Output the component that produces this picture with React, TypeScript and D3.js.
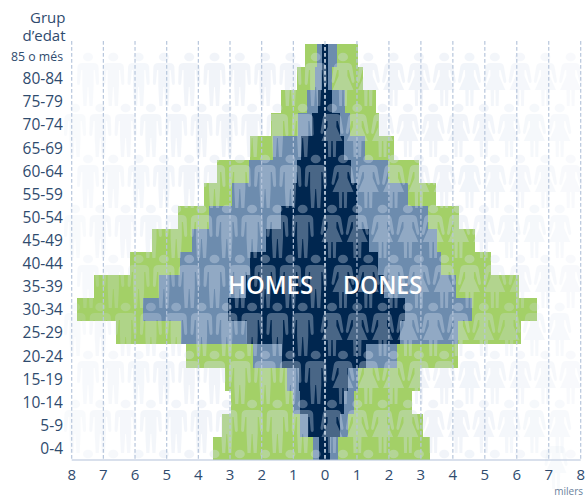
import React, { useEffect, useRef } from 'react';
import * as d3 from 'd3';

const WIDTH = 585;
const HEIGHT = 498;

const ageGroups = ['85 o més', '80-84', '75-79', '70-74', '65-69', '60-64', '55-59', '50-54', '45-49', '40-44', '35-39', '30-34', '25-29', '20-24', '15-19', '10-14', '5-9', '0-4'];
const xTicks = [-8, -7, -6, -5, -4, -3, -2, -1, 0, 1, 2, 3, 4, 5, 6, 7, 8];

// thousands, largest layer first
const menGreen = [0.63, 0.88, 1.39, 1.71, 2.37, 3.41, 3.82, 4.64, 5.46, 6.16, 7.3, 7.83, 6.6, 4.39, 3.16, 2.97, 3.25, 3.54];
const womenGreen = [1.03, 1.19, 1.6, 1.69, 2.16, 2.94, 3.47, 4.19, 4.69, 5.19, 6.07, 6.63, 6.13, 4.16, 2.97, 2.72, 3.07, 3.29];
const menBlue = [0.25, 0.32, 0.57, 0.85, 1.64, 2.4, 2.94, 3.66, 4.2, 4.58, 5.24, 5.75, 4.55, 2.27, 1.2, 1.01, 0.79, 0.38];
const womenBlue = [0.38, 0.22, 0.63, 0.78, 1.25, 1.97, 2.6, 3.22, 3.5, 3.63, 4.1, 4.6, 4.16, 2.25, 1.03, 0.91, 0.72, 0.41];
const menNavy = [0.09, 0.09, 0.22, 0.41, 0.76, 0.88, 1.01, 1.39, 1.86, 2.37, 2.5, 3.06, 2.46, 1.36, 0.82, 0.79, 0.54, 0.19];
const womenNavy = [0.09, 0.09, 0.22, 0.47, 0.59, 0.81, 1.0, 1.03, 1.38, 1.66, 1.85, 2.5, 2.35, 1.28, 0.72, 0.59, 0.47, 0.16];

const MAN = 'M-5.5,10 L5.5,10 Q10,10 10.5,14 L11,30 Q11,32 9.5,32 Q8,32 8,30 L6.8,17 L5.6,17 L5.6,33 L4.6,53 L1.5,53 L0.4,34 L-0.4,34 L-1.5,53 L-4.6,53 L-5.6,33 L-5.6,17 L-6.8,17 L-8,30 Q-8,32 -9.5,32 Q-11,32 -11,30 L-10.5,14 Q-10,10 -5.5,10 Z';
const WOMAN = 'M-4.5,10 L4.5,10 Q8.5,10 9.2,14 L11.5,28 Q11.5,30 10,30 Q9,30 8.5,28 L5.8,17 L4.4,17 L4.4,23 L10.5,37 L4.2,37 L3.8,53 L1,53 L0.7,37 L-0.7,37 L-1,53 L-3.8,53 L-4.2,37 L-10.5,37 L-4.4,23 L-4.4,17 L-5.8,17 L-8.5,28 Q-9,30 -10,30 Q-11.5,30 -11.5,28 L-9.2,14 Q-8.5,10 -4.5,10 Z';

const FONT = '"Open Sans", sans-serif';
const TEXT_COLOR = '#2f4b6e';

const App: React.FC = () => {
  const ref = useRef<SVGSVGElement>(null);

  useEffect(() => {
    const svg = d3.select(ref.current);
    svg.selectAll('*').remove();

    const x = d3.scaleLinear().domain([-8, 0, 8]).range([71.7, 325, 580.7]);
    const y = d3.scaleBand().domain(ageGroups).range([44, 460]);

    // pyramid layers, one bar per age group and side
    const layers = [
      { color: '#a3d067', men: menGreen, women: womenGreen },
      { color: '#6d8cae', men: menBlue, women: womenBlue },
      { color: '#00264f', men: menNavy, women: womenNavy },
    ];
    layers.forEach((layer) => {
      const g = svg.append('g').attr('shape-rendering', 'crispEdges').attr('fill', layer.color);
      g.selectAll('.m')
        .data(ageGroups)
        .join('rect')
        .attr('x', (_, i) => x(-layer.men[i]))
        .attr('y', (d) => y(d)!)
        .attr('width', (_, i) => x(0) - x(-layer.men[i]))
        .attr('height', y.bandwidth());
      g.selectAll('.w')
        .data(ageGroups)
        .join('rect')
        .attr('class', 'w')
        .attr('x', x(0))
        .attr('y', (d) => y(d)!)
        .attr('width', (_, i) => x(layer.women[i]) - x(0))
        .attr('height', y.bandwidth());
    });

    // people in the background, drawn over the bars
    const fade = d3.scaleLinear().domain([70, 190, 460, 580]).range([0.45, 1, 1, 0.45]).clamp(true);
    const people = svg.append('g').attr('fill', 'rgb(215,225,240)');
    const drawPerson = (px: number, top: number, shape: string, opacity: number) => {
      const p = people.append('g').attr('transform', `translate(${px},${top})`).attr('opacity', opacity);
      p.append('ellipse').attr('cx', 0).attr('cy', 4).attr('rx', 5).attr('ry', 4.3);
      p.append('path').attr('d', shape);
    };
    const rowTops = [53, 104, 155, 205, 255, 303, 351, 400, 450];
    rowTops.forEach((top, r) => {
      const odd = r % 2 === 1;
      const left = odd ? 75 : 88;
      const right = odd ? 332 : 343;
      d3.range(10).forEach((i) => {
        const mx = left + i * 25.3;
        const wx = right + i * 25.3;
        drawPerson(mx, top, MAN, 0.34 * fade(mx));
        drawPerson(wx, top, WOMAN, 0.34 * fade(wx));
      });
    });

    // clip the last row at the axis
    svg.append('rect').attr('x', 0).attr('y', 460).attr('width', WIDTH).attr('height', 38).attr('fill', '#fff');

    // the one figure that runs past the axis
    svg
      .append('g')
      .attr('transform', 'translate(556,436)')
      .attr('fill', 'rgb(215,225,240)')
      .attr('opacity', 0.18)
      .append('path')
      .attr('d', WOMAN);

    // dashed grid
    svg
      .append('g')
      .selectAll('line')
      .data(xTicks)
      .join('line')
      .attr('x1', (d) => x(d))
      .attr('x2', (d) => x(d))
      .attr('y1', 41)
      .attr('y2', 460)
      .attr('stroke', (d) => (d === 0 ? '#d3deea' : '#b7c6dc'))
      .attr('stroke-width', (d) => (d === 0 ? 1.6 : 1.2))
      .attr('stroke-dasharray', '3.7 2.3');

    // x axis
    svg
      .append('line')
      .attr('x1', x(-8))
      .attr('x2', x(8))
      .attr('y1', 460)
      .attr('y2', 460)
      .attr('stroke', '#b3c2d9')
      .attr('stroke-width', 1.2);

    svg
      .append('g')
      .selectAll('text')
      .data(xTicks)
      .join('text')
      .attr('x', (d) => x(d))
      .attr('y', 480)
      .attr('text-anchor', 'middle')
      .attr('font-family', FONT)
      .attr('font-size', 15)
      .attr('fill', TEXT_COLOR)
      .text((d) => Math.abs(d));

    // age labels
    svg
      .append('g')
      .selectAll('text')
      .data(ageGroups)
      .join('text')
      .attr('x', 63)
      .attr('y', (d) => y(d)! + y.bandwidth() / 2 + 5.5)
      .attr('text-anchor', 'end')
      .attr('font-family', FONT)
      .attr('font-size', (d) => (d === '85 o més' ? 12.3 : 15.5))
      .attr('fill', TEXT_COLOR)
      .text((d) => d);

    const title = svg
      .append('text')
      .attr('text-anchor', 'end')
      .attr('font-family', FONT)
      .attr('font-size', 15)
      .attr('fill', TEXT_COLOR);
    title.append('tspan').attr('x', 65.5).attr('y', 23).text('Grup');
    title.append('tspan').attr('x', 65.5).attr('y', 41).text('d’edat');

    svg
      .append('text')
      .attr('x', 583)
      .attr('y', 495)
      .attr('text-anchor', 'end')
      .attr('font-family', FONT)
      .attr('font-size', 10)
      .attr('fill', '#6a7f9b')
      .text('milers');

    // side names
    [
      { label: 'HOMES', px: 228, w: 85 },
      { label: 'DONES', px: 343, w: 79 },
    ].forEach(({ label, px, w }) => {
      svg
        .append('text')
        .attr('x', px)
        .attr('y', 294)
        .attr('font-family', FONT)
        .attr('font-weight', 600)
        .attr('font-size', 25)
        .attr('textLength', w)
        .attr('lengthAdjust', 'spacingAndGlyphs')
        .attr('fill', '#fff')
        .text(label);
    });
  }, []);

  return <svg ref={ref} width={WIDTH} height={HEIGHT} style={{ position: 'absolute', left: 0, top: 0 }} />;
};

export default App;
